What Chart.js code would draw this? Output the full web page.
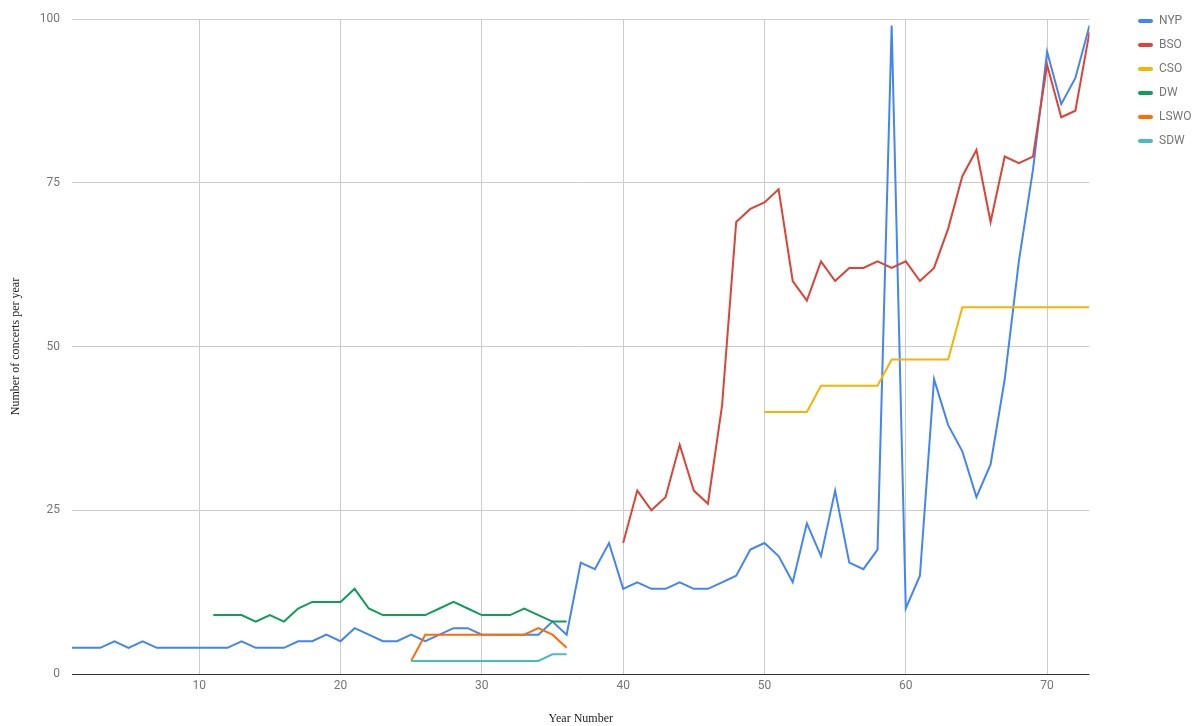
<!DOCTYPE html>
<html>
<head>
<meta charset="utf-8">
<script src="https://cdn.jsdelivr.net/npm/chart.js@4.4.1/dist/chart.umd.min.js"></script>
<style>
  html, body { margin: 0; padding: 0; background: #ffffff; }
  canvas { display: block; }
</style>
</head>
<body>
<canvas id="chart" width="1195" height="726"></canvas>
<script>
// Concerts per year by orchestra, indexed by year number
const seriesNames  = ['NYP', 'BSO', 'CSO', 'DW', 'LSWO', 'SDW'];
const seriesColors = ['#4285F4', '#DB4437', '#F4B400', '#0F9D58', '#FF6D00', '#46BDC6'];
const firstYears   = [1, 40, 50, 11, 25, 25];

const nyp  = [4, 4, 4, 5, 4, 5, 4, 4, 4, 4, 4, 4, 5, 4, 4, 4, 5, 5, 6, 5,
              7, 6, 5, 5, 6, 5, 6, 7, 7, 6, 6, 6, 6, 6, 8, 6, 17, 16, 20, 13,
              14, 13, 13, 14, 13, 13, 14, 15, 19, 20, 18, 14, 23, 18, 28, 17, 16, 19, 99, 10,
              15, 45, 38, 34, 27, 32, 45, 63, 77, 95, 87, 91, 99];
const bso  = [20, 28, 25, 27, 35, 28, 26, 41, 69, 71, 72, 74, 60, 57, 63, 60, 62, 62, 63, 62,
              63, 60, 62, 68, 76, 80, 69, 79, 78, 79, 93, 85, 86, 98];
const cso  = [40, 40, 40, 40, 44, 44, 44, 44, 44, 48, 48, 48, 48, 48, 56, 56, 56, 56, 56, 56,
              56, 56, 56, 56];
const dw   = [9, 9, 9, 8, 9, 8, 10, 11, 11, 11, 13, 10, 9, 9, 9, 9, 10, 11, 10, 9,
              9, 9, 10, 9, 8, 8];
const lswo = [2, 6, 6, 6, 6, 6, 6, 6, 6, 7, 6, 4];
const sdw  = [2, 2, 2, 2, 2, 2, 2, 2, 2, 2, 3, 3];

const seriesValues = [nyp, bso, cso, dw, lswo, sdw];

const xTicks = [10, 20, 30, 40, 50, 60, 70];
const yTicks = [0, 25, 50, 75, 100];

Chart.defaults.font.family = 'Roboto, "Liberation Sans", sans-serif';

const datasets = seriesNames.map((name, i) => ({
  label: name,
  data: seriesValues[i].map((v, k) => ({ x: firstYears[i] + k, y: v })),
  borderColor: seriesColors[i],
  backgroundColor: seriesColors[i],
  borderWidth: 2,
  pointRadius: 0,
  pointHoverRadius: 0,
  tension: 0,
  fill: false,
  order: -i  // later series are painted over earlier ones
}));

// Moves the legend column to its spot at the right edge of the canvas
const legendPlacement = {
  id: 'legendPlacement',
  afterLayout(chart) {
    const lg = chart.legend;
    if (!lg) return;
    lg.left = 1126;
    lg.right = lg.left + lg.width;
  }
};

new Chart(document.getElementById('chart'), {
  type: 'line',
  data: { datasets },
  plugins: [legendPlacement],
  options: {
    responsive: false,
    animation: false,
    layout: { padding: { top: 3, left: 0, right: 30, bottom: 0 } },
    plugins: {
      tooltip: { enabled: false },
      legend: {
        position: 'right',
        align: 'start',
        labels: {
          boxWidth: 15,
          boxHeight: 4,
          padding: 12,
          color: '#757575',
          font: { size: 12 },
          useBorderRadius: true,
          borderRadius: 2,
          sort: (a, b) => a.datasetIndex - b.datasetIndex,
          generateLabels: chart =>
            Chart.defaults.plugins.legend.labels.generateLabels(chart)
              .map(item => ({ ...item, lineWidth: 0 }))
        }
      }
    },
    scales: {
      x: {
        type: 'linear',
        min: 1,
        max: 73,
        afterBuildTicks: s => { s.ticks = xTicks.map(v => ({ value: v })); },
        afterFit: s => { s.height = 52; },
        grid: { color: '#cccccc', lineWidth: 1, drawTicks: false },
        border: { display: false },
        ticks: { padding: 5, color: '#757575', font: { size: 12 }, maxRotation: 0 },
        title: {
          display: true,
          text: 'Year Number',
          color: '#222222',
          font: { family: '"Liberation Serif", "DejaVu Serif", serif', size: 12 },
          padding: { top: 0, bottom: 0 }
        }
      },
      y: {
        type: 'linear',
        min: 0,
        max: 100,
        afterBuildTicks: s => { s.ticks = yTicks.map(v => ({ value: v })); },
        afterFit: s => { s.width = 72; s.paddingTop = 19; },
        grid: {
          color: c => (c.tick && c.tick.value === 0 ? '#333333' : '#cccccc'),
          lineWidth: 1,
          drawTicks: false
        },
        border: { display: false },
        ticks: { padding: 12, color: '#757575', font: { size: 12 } },
        title: {
          display: true,
          text: 'Number of concerts per year',
          color: '#222222',
          font: { family: '"Liberation Serif", "DejaVu Serif", serif', size: 12 },
          padding: { top: 9, bottom: 0 }
        }
      }
    }
  }
});
</script>
</body>
</html>
